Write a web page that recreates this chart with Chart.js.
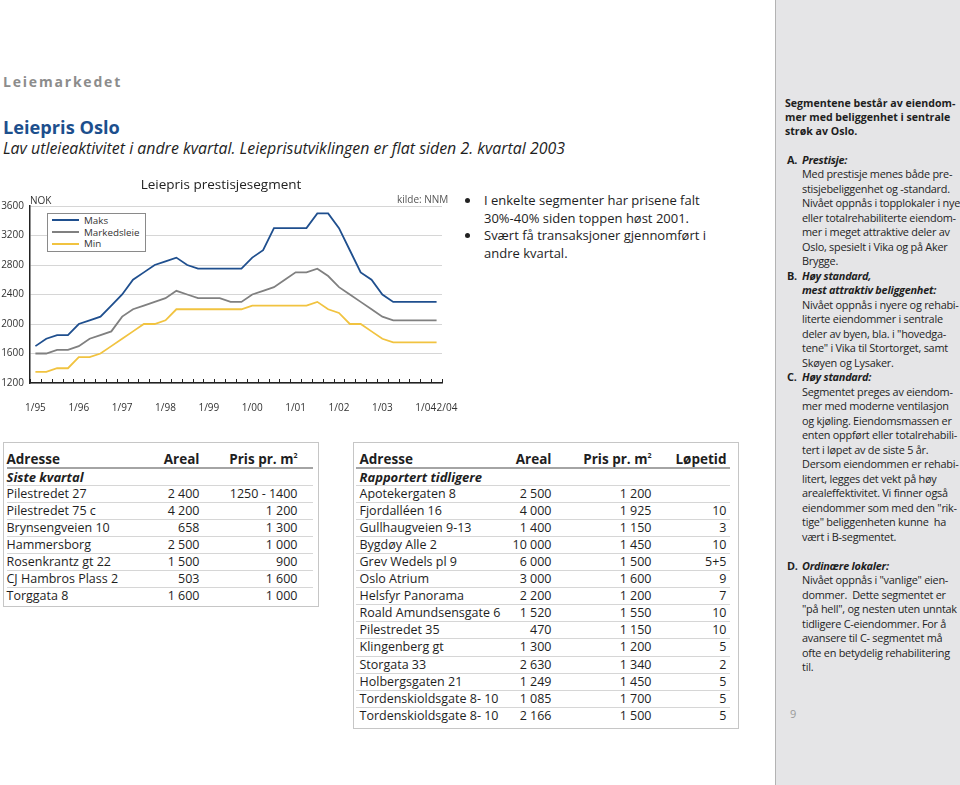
<!DOCTYPE html>
<html>
<head>
<meta charset="UTF-8">
<title>Leiepris Oslo</title>
<script src="https://cdn.jsdelivr.net/npm/chart.js@4.4.1/dist/chart.umd.min.js"></script>
<style>
  body { margin: 0; background: #fff; font-family: "Open Sans", sans-serif; color: #1e1e1e; }
  #page { position: relative; width: 960px; height: 785px; overflow: hidden; }
  .kicker { position: absolute; left: 3px; top: 72px; line-height: 20px; font-size: 14px; font-weight: bold; letter-spacing: 1.8px; color: #8c8c8c; }
  .title { position: absolute; left: 3px; top: 115px; line-height: 24px; font-size: 18.2px; font-weight: bold; color: #1d4f8d; }
  .sub { position: absolute; left: 3px; top: 137px; line-height: 22px; font-size: 15.9px; font-style: italic; white-space: nowrap; }
  #chart { position: absolute; left: 0; top: 170px; }
  .small { position: absolute; font-size: 10px; line-height: 12px; color: #333; }
  #legend { position: absolute; left: 47px; top: 213px; width: 97px; height: 37px; border: 1px solid #8a8a8a; background: #fff; }
  #legend div { position: absolute; left: 4px; font-size: 9.8px; line-height: 11px; color: #333; white-space: nowrap; }
  #legend span { display: inline-block; width: 27px; height: 2px; margin-right: 5px; vertical-align: middle; position: relative; top: -1px; }
  .bullets { position: absolute; left: 484px; top: 192px; font-size: 13px; line-height: 17.5px; white-space: nowrap; }
  .bullets .dot { position: absolute; left: -19px; width: 5px; height: 5px; border-radius: 50%; background: #222; }
  .tbox { position: absolute; border: 1.5px solid #c6c6c6; box-sizing: border-box; }
  .tbox table { position: absolute; border-collapse: collapse; table-layout: fixed; font-size: 12.5px; }
  .tbox td, .tbox th { height: 16.1px; padding: 0; line-height: 16px; white-space: nowrap; border-bottom: 1px solid #d6d6d6; }
  .tbox th { height: 15.1px; font-size: 13.5px; font-weight: bold; border-bottom: 2px solid #a4a4a4; }
  .tbox tr:last-child td { border-bottom: none; }
  .tbox .r { text-align: right; }
  .tbox .l { text-align: left; }
  .tbox .grp { font-weight: bold; font-style: italic; font-size: 13px; }
  #t2 .l { padding-left: 4px; }
  sup { font-size: 7px; vertical-align: 6px; line-height: 0; }
  .side { position: absolute; left: 775px; top: 0; width: 185px; height: 785px; background: #e5e5e7; border-left: 1.5px solid #b3b3b3; box-sizing: border-box; }
  .sidetext { position: absolute; left: 9px; top: 96px; font-size: 10.9px; letter-spacing: -0.25px; line-height: 14.5px; white-space: nowrap; color: #1e1e1e; }
  .sidetext .head { font-weight: bold; font-size: 10.6px; letter-spacing: 0; line-height: 14px; }
  .sidetext .item { position: relative; padding-left: 17px; }
  .sidetext .lt { position: absolute; left: 2px; font-weight: bold; }
  .sidetext .gap { height: 14.5px; }
  .pnum { position: absolute; left: 14px; top: 706px; font-size: 11px; color: #9a9a9a; }
</style>
</head>
<body>
<div id="page">
  <div class="side">
    <div class="sidetext">
      <div class="head">Segmentene består av eiendom-<br>mer med beliggenhet i sentrale<br>strøk av Oslo.</div>
      <div class="gap"></div>
      <div class="item"><span class="lt">A.</span><b><i>Prestisje:</i></b><br>Med prestisje menes både pre-<br>stisjebeliggenhet og -standard.<br>Nivået oppnås i topplokaler i nye<br>eller totalrehabiliterte eiendom-<br>mer i meget attraktive deler av<br>Oslo, spesielt i Vika og på Aker<br>Brygge.</div>
      <div class="item"><span class="lt">B.</span><b><i>Høy standard,<br>mest attraktiv beliggenhet:</i></b><br>Nivået oppnås i nyere og rehabi-<br>literte eiendommer i sentrale<br>deler av byen, bla. i "hovedga-<br>tene" i Vika til Stortorget, samt<br>Skøyen og Lysaker.</div>
      <div class="item"><span class="lt">C.</span><b><i>Høy standard:</i></b><br>Segmentet preges av eiendom-<br>mer med moderne ventilasjon<br>og kjøling. Eiendomsmassen er<br>enten oppført eller totalrehabili-<br>tert i løpet av de siste 5 år.<br>Dersom eiendommen er rehabi-<br>litert, legges det vekt på høy<br>arealeffektivitet. Vi finner også<br>eiendommer som med den "rik-<br>tige" beliggenheten kunne&nbsp; ha<br>vært i B-segmentet.</div>
      <div class="gap"></div>
      <div class="item"><span class="lt">D.</span><b><i>Ordinære lokaler:</i></b><br>Nivået oppnås i "vanlige" eien-<br>dommer.&nbsp; Dette segmentet er<br>"på hell", og nesten uten unntak<br>tidligere C-eiendommer. For å<br>avansere til C- segmentet må<br>ofte en betydelig rehabilitering<br>til.</div>
    </div>
    <div class="pnum">9</div>
  </div>

  <div class="kicker">Leiemarkedet</div>
  <div class="title">Leiepris Oslo</div>
  <div class="sub">Lav utleieaktivitet i andre kvartal. Leieprisutviklingen er flat siden 2. kvartal 2003</div>

  <canvas id="chart" width="460" height="250"></canvas>
  <div class="small" style="left:30px; top:194px;">NOK</div>
  <div class="small" style="left:397px; top:193px; color:#555;">kilde: NNM</div>
  <div id="legend"></div>

  <div class="bullets">
    <div style="position:relative"><span class="dot" style="top:6px"></span>I enkelte segmenter har prisene falt<br>30%-40% siden toppen høst 2001.</div>
    <div style="position:relative"><span class="dot" style="top:6px"></span>Svært få transaksjoner gjennomført i<br>andre kvartal.</div>
  </div>

  <div class="tbox" style="left:3px; top:442px; width:316px; height:165px;">
    <table id="t1" style="left:2.5px; top:7.5px; width:306px;">
      <colgroup><col style="width:120px"><col style="width:73px"><col style="width:113px"></colgroup>
    </table>
  </div>
  <div class="tbox" style="left:353px; top:442px; width:386px; height:287px;">
    <table id="t2" style="left:1.5px; top:7.5px; width:374px;">
      <colgroup><col style="width:130px"><col style="width:66px"><col style="width:100px"><col style="width:78px"></colgroup>
    </table>
  </div>
</div>

<script>
  // kvartaler 1/95 - 2/04
  var quarters = ['1/95','2/95','3/95','4/95','1/96','2/96','3/96','4/96','1/97','2/97','3/97','4/97',
                  '1/98','2/98','3/98','4/98','1/99','2/99','3/99','4/99','1/00','2/00','3/00','4/00',
                  '1/01','2/01','3/01','4/01','1/02','2/02','3/02','4/02','1/03','2/03','3/03','4/03',
                  '1/04','2/04'];
  var tickLabels = ['1/95','1/96','1/97','1/98','1/99','1/00','1/01','1/02','1/03','1/04','2/04'];

  var maks = [1700,1800,1850,1850,2000,2050,2100,2250,2400,2600,2700,2800,
              2850,2900,2800,2750,2750,2750,2750,2750,2900,3000,3300,3300,
              3300,3300,3500,3500,3300,3000,2700,2600,2400,2300,2300,2300,
              2300,2300];
  var markedsleie = [1600,1600,1650,1650,1700,1800,1850,1900,2100,2200,2250,2300,
                     2350,2450,2400,2350,2350,2350,2300,2300,2400,2450,2500,2600,
                     2700,2700,2750,2650,2500,2400,2300,2200,2100,2050,2050,2050,
                     2050,2050];
  var min = [1350,1350,1400,1400,1550,1550,1600,1700,1800,1900,2000,2000,
             2050,2200,2200,2200,2200,2200,2200,2200,2250,2250,2250,2250,
             2250,2250,2300,2200,2150,2000,2000,1900,1800,1750,1750,1750,
             1750,1750];

  var yMin = 1200, yMax = 3600, yStep = 400;

  // tabeller
  var t1Head = ['Adresse', 'Areal', 'Pris pr. m<sup>2</sup>'];
  var t1Group = 'Siste kvartal';
  var t1Rows = [
    ['Pilestredet 27', '2 400', '1250 - 1400'],
    ['Pilestredet 75 c', '4 200', '1 200'],
    ['Brynsengveien 10', '658', '1 300'],
    ['Hammersborg', '2 500', '1 000'],
    ['Rosenkrantz gt 22', '1 500', '900'],
    ['CJ Hambros Plass 2', '503', '1 600'],
    ['Torggata 8', '1 600', '1 000']
  ];
  var t2Head = ['Adresse', 'Areal', 'Pris pr. m<sup>2</sup>', 'Løpetid'];
  var t2Group = 'Rapportert tidligere';
  var t2Rows = [
    ['Apotekergaten 8', '2 500', '1 200', ''],
    ['Fjordalléen 16', '4 000', '1 925', '10'],
    ['Gullhaugveien 9-13', '1 400', '1 150', '3'],
    ['Bygdøy Alle 2', '10 000', '1 450', '10'],
    ['Grev Wedels pl 9', '6 000', '1 500', '5+5'],
    ['Oslo Atrium', '3 000', '1 600', '9'],
    ['Helsfyr Panorama', '2 200', '1 200', '7'],
    ['Roald Amundsensgate 6', '1 520', '1 550', '10'],
    ['Pilestredet 35', '470', '1 150', '10'],
    ['Klingenberg gt', '1 300', '1 200', '5'],
    ['Storgata 33', '2 630', '1 340', '2'],
    ['Holbergsgaten 21', '1 249', '1 450', '5'],
    ['Tordenskioldsgate 8- 10', '1 085', '1 700', '5'],
    ['Tordenskioldsgate 8- 10', '2 166', '1 500', '5']
  ];

  function fillTable(id, head, group, rows, padRight) {
    var t = document.getElementById(id);
    var html = '<tr>';
    head.forEach(function (h, i) {
      var pr = (i === head.length - 1) ? 'padding-right:' + padRight + 'px;' : '';
      html += '<th class="' + (i === 0 ? 'l' : 'r') + '" style="' + pr + '">' + h + '</th>';
    });
    html += '</tr><tr><td class="grp l" colspan="' + head.length + '">' + group + '</td></tr>';
    rows.forEach(function (r) {
      html += '<tr>';
      r.forEach(function (c, i) {
        var pr = (i === r.length - 1) ? 'padding-right:' + padRight + 'px;' : '';
        html += '<td class="' + (i === 0 ? 'l' : 'r') + '" style="' + pr + '">' + c.replace(/ (?=\d)/g, '&nbsp;') + '</td>';
      });
      html += '</tr>';
    });
    t.insertAdjacentHTML('beforeend', html);
  }
  fillTable('t1', t1Head, t1Group, t1Rows, 15);
  fillTable('t2', t2Head, t2Group, t2Rows, 3);

  // små kvartalsstreker oppover fra x-aksen
  var quarterTicks = {
    id: 'quarterTicks',
    afterDatasetsDraw: function (chart) {
      var x = chart.scales.x, ctx = chart.ctx;
      var step = (x.right - x.left) / quarters.length;
      ctx.save();
      ctx.strokeStyle = '#222';
      ctx.lineWidth = 1;
      ctx.beginPath();
      for (var k = 0; k <= quarters.length; k++) {
        var px = Math.round(x.left + k * step) + 0.5;
        ctx.moveTo(px, x.top);
        ctx.lineTo(px, x.top - 4);
      }
      ctx.stroke();
      ctx.restore();
    }
  };

  var ctx = document.getElementById('chart').getContext('2d');
  var chart = new Chart(ctx, {
    type: 'line',
    data: {
      labels: quarters,
      datasets: [
        { label: 'Maks', data: maks, borderColor: '#1f4f8e', borderWidth: 1.8 },
        { label: 'Markedsleie', data: markedsleie, borderColor: '#808080', borderWidth: 1.8 },
        { label: 'Min', data: min, borderColor: '#f1c340', borderWidth: 1.8 }
      ]
    },
    options: {
      responsive: false,
      animation: false,
      devicePixelRatio: 1,
      elements: { point: { radius: 0 }, line: { tension: 0 } },
      layout: { padding: { left: 0, right: 18, top: 0, bottom: 0 } },
      plugins: {
        legend: { display: false },
        tooltip: { enabled: false },
        title: {
          display: true,
          text: 'Leiepris prestisjesegment',
          color: '#222',
          font: { family: 'Open Sans', size: 13.5, weight: 'normal' },
          padding: { top: 7, bottom: 12.8 }
        }
      },
      scales: {
        x: {
          offset: true,
          grid: { display: false, drawTicks: false },
          border: { display: true, color: '#222', width: 1.5 },
          ticks: {
            autoSkip: false,
            maxRotation: 0,
            padding: 19,
            color: '#333',
            font: { family: 'Open Sans', size: 10 },
            callback: function (v, i) {
              var q = quarters[i];
              if (tickLabels.indexOf(q) < 0) return '';
              return i === quarters.length - 1 ? '\u00a0\u00a0\u00a0\u00a0\u00a0\u00a0\u00a0\u00a0' + q : q;
            }
          },
          afterFit: function (s) { s.height = 37; s.paddingLeft = 0; s.paddingRight = 0; }
        },
        y: {
          min: yMin,
          max: yMax,
          grid: { color: '#d6d6d6', lineWidth: 1, drawTicks: false },
          border: { display: true, color: '#222', width: 1.5 },
          ticks: {
            stepSize: yStep,
            padding: 6,
            color: '#333',
            font: { family: 'Open Sans', size: 10 },
            callback: function (v) { return String(v); }
          },
          afterFit: function (s) { s.width = 30; s.paddingTop = 0; s.paddingBottom = 0; }
        }
      }
    },
    plugins: [quarterTicks]
  });

  // tegnforklaring i ramme, bygget fra diagrammets dataserier
  var legend = document.getElementById('legend');
  chart.data.datasets.forEach(function (ds, i) {
    var row = document.createElement('div');
    row.style.top = (1 + i * 11.7) + 'px';
    row.innerHTML = '<span style="background:' + ds.borderColor + '"></span>' + ds.label;
    legend.appendChild(row);
  });
</script>
</body>
</html>
